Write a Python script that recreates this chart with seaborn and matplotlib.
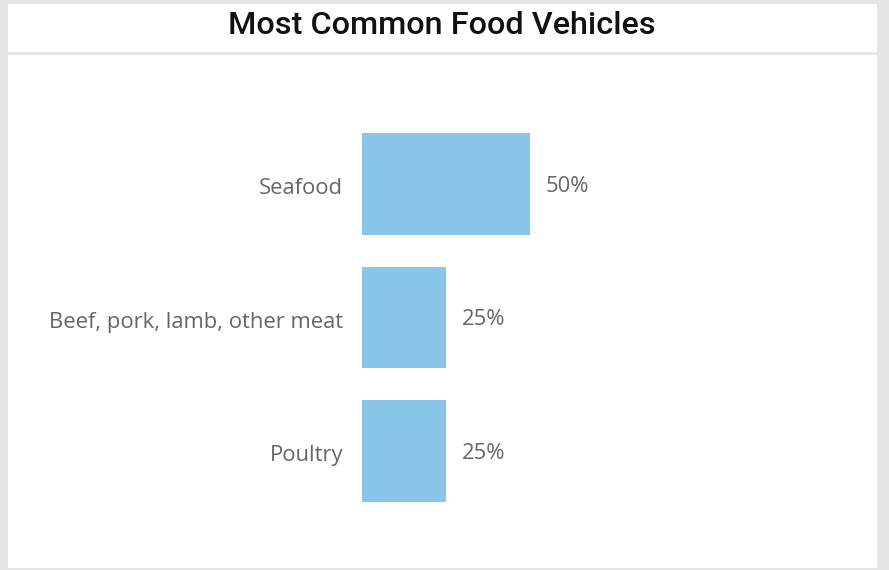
import matplotlib
matplotlib.use("Agg")
import matplotlib.pyplot as plt
from matplotlib.patches import Rectangle
from matplotlib.lines import Line2D
from matplotlib.transforms import ScaledTranslation
import seaborn as sns
import pandas as pd

# Share of outbreaks by food vehicle
categories = ["Seafood", "Beef, pork, lamb, other meat", "Poultry"]
shares = [50, 25, 25]
value_labels = ["50%", "25%", "25%"]

df = pd.DataFrame({"category": categories, "share": shares})

W, H = 889, 570
fig = plt.figure(figsize=(W / 100, H / 100), dpi=100)
fig.patch.set_facecolor("#e5e5e5")

# White card behind the chart
fig.add_artist(Rectangle((8 / W, 2 / H), (877 - 8) / W, (566 - 2) / H,
                         transform=fig.transFigure, facecolor="white",
                         edgecolor="none", zorder=0))
# Rule under the title
fig.add_artist(Line2D([8 / W, 877 / W], [1 - 52.5 / H, 1 - 52.5 / H],
                      transform=fig.transFigure, color="#e5e5e5", lw=2, zorder=1))

fig.text(442 / W, 1 - 25 / H, "Most Common Food Vehicles", ha="center", va="center",
         fontsize=23.3, fontfamily="Roboto", fontweight="medium", color="#111111")

left, right = 362, 698
top, bottom = 117.25, 517.75
ax = fig.add_axes([left / W, 1 - bottom / H, (right - left) / W, (bottom - top) / H])
ax.set_facecolor("none")

sns.barplot(data=df, x="share", y="category", orient="h", color="#89c4e9",
            saturation=1, width=0.764, ax=ax)

ax.set_xlim(0, 100)
ax.set_ylim(2.5, -0.5)
for s in ax.spines.values():
    s.set_visible(False)
ax.set_xticks([])
ax.set_xlabel("")
ax.set_ylabel("")
ax.tick_params(axis="y", length=0, pad=13.7, labelsize=15.8, labelcolor="#666666")
nudge = ScaledTranslation(0, -2 / 100, fig.dpi_scale_trans)
for lbl in ax.get_yticklabels():
    lbl.set_fontfamily("Open Sans")
    lbl.set_transform(lbl.get_transform() + nudge)

for i, (v, t) in enumerate(zip(shares, value_labels)):
    ax.annotate(t, (v, i), xytext=(16, -2), textcoords="offset pixels",
                ha="left", va="center", fontsize=15.8, color="#666666",
                fontfamily="Open Sans")

fig.savefig("out.png", dpi=100, facecolor=fig.get_facecolor())
